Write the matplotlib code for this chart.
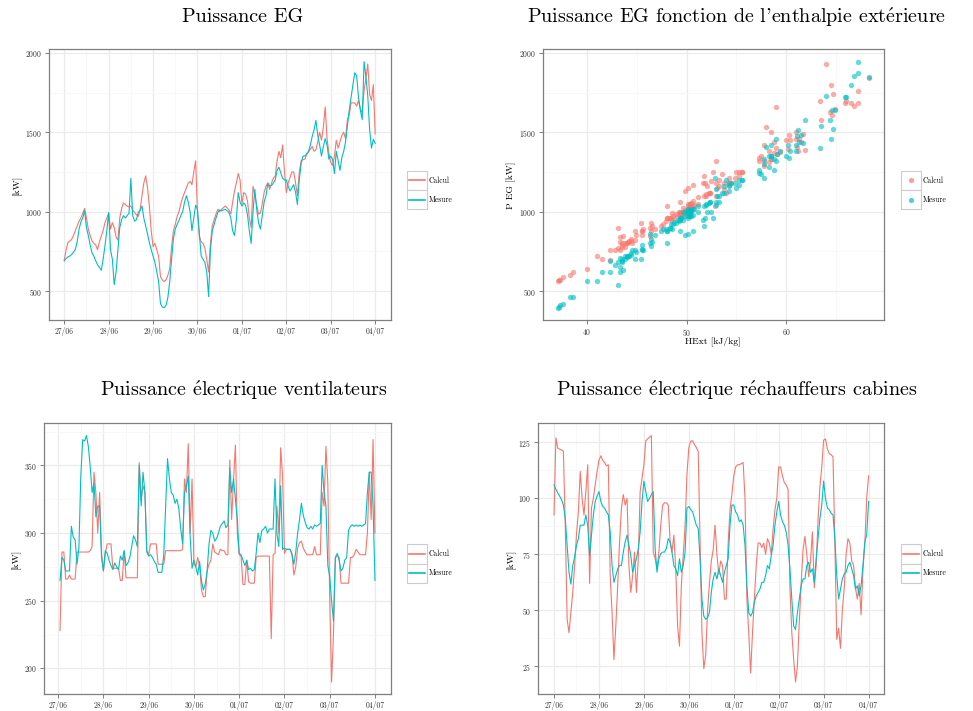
import numpy as np
import pandas as pd
import matplotlib
matplotlib.use('Agg')
import matplotlib.pyplot as plt
import matplotlib.dates as mdates
from matplotlib.ticker import MultipleLocator
from matplotlib.patches import Rectangle

plt.rcParams['font.family'] = ['cmr10', 'DejaVu Serif']
plt.rcParams['mathtext.fontset'] = 'cm'
plt.rcParams['axes.formatter.use_mathtext'] = True

nan = float('nan')
E_ACUTE = r'$\mathrm{\acute{e}}$'

# hourly samples, 27/06 00:00 -> 04/07 00:00
times = pd.date_range('2014-06-27 00:00', periods=169, freq='h').to_numpy()
series_names = ['Calcul', 'Mesure']
colors = ['#F8766D', '#00BFC4']

# Puissance EG [kW]
eg_calcul = [695, 760, 805, 815, 825, 850, 880, 910, 940, 960, 990, 1020,
             960, 890, 850, 815, 800, 790, 760, 810, 845, 880, 930, 960,
             990, 890, 930, 900, 840, 820, 960, 1020, 1055, 1045, 1035, 1030,
             1035, 1010, 995, 980, 970, 1010, 1100, 1180, 1225, 1150, 1035, 880,
             780, 800, 760, 720, 590, 570, 560, 570, 600, 640, 780, 880,
             920, 970, 1000, 1050, 1090, 1120, 1150, 1180, 1190, 1170, 1250, 1320,
             990, 845, 810, 800, 770, 700, 620, 800, 910, 950, 985, 1015,
             1000, 1015, 1025, 1035, 1025, 1010, 985, 1060, 1130, 1180, 1240, 1200,
             1050, 1120, 1110, 1070, 960, 900, 1160, 1100, 1040, 985, 990, 1050,
             1120, 1160, 1180, 1140, 1180, 1210, 1225, 1320, 1380, 1340, 1420, 1250,
             1120, 1180, 1215, 1250, 1250, 1180, 1100, 1250, 1320, 1330, 1330, 1360,
             1375, 1395, 1410, 1380, 1390, 1440, 1500, 1450, 1530, 1660, 1460, 1370,
             1310, 1290, 1350, 1450, 1400, 1440, 1480, 1500, 1460, 1580, 1610, 1685,
             1685, 1685, 1665, 1700, 1645, 1625, 1760, 1840, 1930, 1740, 1700, 1800, 1490]
eg_mesure = [690, 705, 715, 720, 730, 745, 763, 810, 890, 935, 960, 1005,
             900, 850, 790, 740, 720, 690, 665, 650, 630, 700, 785, 880,
             995, 760, 700, 540, 620, 760, 900, 950, 975, 960, 975, 990,
             1210, 975, 940, 950, 995, 1010, 1035, 960, 910, 860, 805, 760,
             720, 680, 620, 560, 420, 400, 395, 410, 460, 560, 700, 830,
             890, 920, 945, 975, 1000, 1060, 1100, 1060, 1000, 880, 960, 1040,
             1015, 860, 720, 700, 680, 620, 465, 760, 880, 920, 960, 995,
             1010, 1005, 1010, 1015, 1005, 995, 960, 880, 850, 950, 1120, 1060,
             1035, 1055, 1040, 980, 880, 800, 1000, 1140, 1015, 930, 890, 975,
             1060, 1100, 1180, 1160, 1165, 1180, 1200, 1260, 1280, 1245, 1210, 1200,
             1200, 1160, 1130, 1150, 1170, 1120, 1045, 1200, 1300, 1350, 1350, 1365,
             1380, 1420, 1475, 1515, 1575, 1480, 1420, 1350, 1410, 1460, 1420, 1330,
             1350, 1330, 1240, 1380, 1320, 1260, 1340, 1380, 1440, 1540, 1640, 1720,
             1800, 1875, 1855, 1720, 1640, 1580, 1945, 1850, 1730, 1520, 1400, 1455, 1430]

# enthalpie exterieure [kJ/kg]
hext = [42.3, 43.3, 44.0, 44.2, 44.4, 44.9, 45.5, 46.5, 47.9, 48.7, 49.4, 50.3,
        48.3, 46.8, 45.5, 44.4, 44.0, 43.5, 42.8, 43.3, 43.6, 44.8, 46.4, 48.0,
        49.8, 45.6, 45.4, 43.1, 43.3, 44.8, 48.3, 49.6, 50.4, 50.1, 50.1, 50.3,
        52.9, 49.8, 49.2, 49.1, 49.6, 50.3, 51.7, 51.8, 51.7, 50.1, 48.0, 45.5,
        43.8, 43.5, 42.3, 41.0, 37.6, 37.2, 37.1, 37.3, 38.3, 40.0, 43.5, 46.4,
        47.6, 48.6, 49.3, 50.3, 51.1, 52.3, 53.1, 53.0, 52.4, 50.6, 52.6, 53.0,
        50.1, 46.3, 44.1, 43.8, 43.1, 41.5, 38.6, 44.5, 47.4, 48.4, 49.3, 50.1,
        50.1, 50.3, 50.4, 50.6, 50.4, 50.1, 49.3, 49.3, 49.8, 51.6, 53.6, 53.3,
        51.1, 52.2, 51.9, 50.6, 48.0, 46.3, 52.0, 53.0, 50.7, 48.9, 48.5, 50.3,
        52.3, 53.3, 54.5, 53.8, 54.3, 54.9, 55.3, 57.3, 58.3, 57.3, 57.8, 55.6,
        54.0, 54.3, 54.3, 55.0, 55.3, 53.8, 51.9, 55.6, 57.8, 58.5, 58.5, 59.1,
        59.4, 60.2, 61.1, 61.2, 61.9, 61.5, 58.5, 60.0, 58.0, 59.0, 61.0, 58.8,
        58.3, 57.8, 57.5, 60.4, 59.0, 58.8, 60.3, 61.0, 61.3, 63.5, 64.6, 65.9,
        66.5, 67.2, 66.8, 66.0, 64.9, 64.4, 67.2, 68.3, 64.0, 64.7, 63.4, 64.5, 61.7]

# Puissance electrique ventilateurs [kW]
vent_calcul = [nan, 228, 286, 286, 266, 266, 269, 266, 266, 266, 286, 286,
               286, 286, 286, 286, 286, 287, 290, 345, 330, 300, 330, 285,
               272, 285, 292, 292, 292, 274, 274, 274, 274, 265, 265, 287,
               267, 267, 267, 267, 267, 267, 267, 352, 325, 335, 330, 287,
               284, 292, 292, 292, 292, 277, 277, 277, 277, 287, 287, 287,
               287, 287, 287, 287, 287, 287, 288, 340, 330, 366, 300, 340,
               277, 275, 282, 276, 258, 253, 253, 272, 277, 280, 292, 286,
               285, 284, 288, 287, 287, 284, 284, 354, 310, 339, 365, 300,
               284, 283, 262, 262, 280, 264, 263, 263, 263, 282, 283, 283,
               283, 283, 283, 283, 283, 222, 284, 285, 320, 300, 363, 343,
               285, 288, 288, 288, 285, 269, 275, 289, 293, 294, 289, 286,
               284, 284, 284, 284, 290, 284, 284, 284, 330, 320, 364, 337,
               252, 190, 225, 282, 283, 282, 263, 263, 263, 263, 263, 282,
               282, 284, 288, 286, 284, 284, 284, 284, 300, 345, 310, 369, 300]
vent_mesure = [nan, 265, 282, 280, 272, 272, 272, 305, 297, 295, 277, 289,
               342, 369, 368, 372, 364, 349, 330, 337, 312, 320, 320, 282,
               272, 287, 285, 280, 276, 273, 278, 275, 273, 283, 280, 287,
               276, 278, 282, 290, 298, 295, 290, 350, 320, 345, 330, 286,
               283, 284, 282, 279, 277, 271, 271, 271, 284, 320, 355, 340,
               330, 328, 322, 325, 318, 303, 292, 330, 335, 342, 297, 274,
               280, 275, 269, 279, 265, 258, 262, 272, 292, 302, 300, 294,
               296, 300, 305, 307, 309, 304, 306, 348, 330, 340, 325, 310,
               285, 284, 280, 276, 280, 273, 274, 272, 273, 285, 300, 293,
               302, 303, 305, 300, 303, 303, 303, 340, 300, 290, 335, 288,
               289, 288, 288, 288, 284, 277, 286, 300, 310, 322, 313, 308,
               304, 303, 305, 303, 306, 305, 306, 307, 350, 330, 320, 276,
               268, 250, 235, 282, 285, 280, 272, 274, 280, 282, 302, 305,
               306, 305, 306, 305, 306, 305, 306, 307, 330, 345, 345, 320, 265]

# Puissance electrique rechauffeurs cabines [kW]
rech_calcul = [92.6, 127, 122.4, 122, 121.5, 121, 88, 46, 40, 49, 58, 70,
               84, 94, 112, 100, 92.6, 103, 115, 62, 95.6, 100, 106, 112,
               117, 119, 117, 116, 114.5, 115, 65.5, 49, 28, 43, 61, 80.6,
               95.6, 101.7, 97, 100, 70, 58, 65.5, 76, 58, 73, 103, 109,
               115, 125.7, 126.5, 127.3, 128, 76, 73, 68.5, 76, 88, 97, 98,
               98, 97, 80.6, 76, 83.6, 68.5, 43, 34, 61, 74.5, 88, 110.7,
               122.7, 125.5, 125.7, 124, 122.7, 121, 80.6, 40, 24, 30, 50, 62,
               72, 77, 88, 75, 66, 72, 70, 55, 55, 80, 95, 102,
               110, 114, 115, 115, 115.5, 116, 100, 55, 40, 22, 40, 55,
               70, 80, 80, 78, 80, 75, 82, 80, 75, 86, 95, 100,
               114, 114, 110, 107, 106, 104, 60, 40, 28, 18, 25, 45,
               62, 77, 83, 75, 65, 72, 85, 60, 70, 90, 105, 114,
               126, 126.5, 122, 120, 119.5, 118.5, 80, 37, 42, 33, 50, 60,
               75, 82, 80, 72, 70, 60, 55, 62, 48, 68, 80, 100, 110]
rech_mesure = [106, 104, 102.4, 101, 99.4, 97, 91, 79, 67, 61.7, 70, 73.8,
               79, 82, 88, 88, 88, 92.6, 88, 74.5, 83.6, 92.6, 98.6, 101,
               103, 98.6, 96.4, 95.6, 94, 92.6, 85, 70, 62.5, 65.5, 68.5, 70,
               70, 76, 80.6, 83.6, 79, 74.5, 67, 70, 73, 77.6, 85, 98.6,
               107.7, 103, 98.6, 100, 101.6, 103, 77.6, 67, 73, 75.3, 76, 76,
               77.6, 82, 80.6, 76, 70, 68.5, 65.5, 73, 67, 70, 76, 95.6,
               96.4, 95, 94, 91, 88, 86.6, 73, 55, 47.4, 46, 46.7, 49,
               58, 64, 67, 64, 68.5, 65.5, 62.5, 67, 70, 73, 88, 97,
               97, 94, 92.6, 89.6, 90.4, 88, 79, 61, 49, 47.4, 49, 53.5,
               56.5, 58, 59.5, 62.5, 62.5, 65.5, 70, 68.5, 74.5, 79, 88, 94,
               98.6, 92.6, 89.6, 88, 85, 79, 68.5, 55, 43, 41.4, 49, 55,
               61, 64, 64, 70, 71.5, 67, 68.5, 62.5, 73, 82, 91, 97,
               107.7, 100, 95.6, 95, 93.4, 92.6, 82, 65.5, 55, 59.5, 64, 66.3,
               67, 70, 71.5, 68.5, 65.5, 59.5, 61, 56.5, 61, 70, 80.6, 83.6, 98.6]

W, H = 973, 711
fig = plt.figure(figsize=(W / 100, H / 100), dpi=100)


def px_axes(left, top, right, bottom):
    return fig.add_axes([left / W, 1 - bottom / H, (right - left) / W, (bottom - top) / H])


def style(ax, major, minor):
    ax.set_facecolor('white')
    for s in ax.spines.values():
        s.set_color('#7F7F7F')
        s.set_linewidth(0.9)
    ax.yaxis.set_major_locator(MultipleLocator(major))
    ax.yaxis.set_minor_locator(MultipleLocator(minor))
    ax.grid(which='major', color='#EBEBEB', lw=0.9)
    ax.grid(which='minor', color='#F7F7F7', lw=0.6)
    ax.set_axisbelow(True)
    ax.tick_params(which='major', length=3, width=0.7, color='#7F7F7F',
                   labelsize=5.5, labelcolor='#333333', pad=2)
    ax.tick_params(which='minor', length=0)


def time_axis(ax):
    ax.xaxis.set_major_locator(mdates.DayLocator())
    ax.xaxis.set_minor_locator(mdates.HourLocator(byhour=[12]))
    ax.xaxis.set_major_formatter(mdates.DateFormatter('%d/%m'))


def title(x, y, text):
    fig.text(x / W, 1 - y / H, text, fontsize=14.5, ha='center', va='center')


def legend(x0, y0, kind):
    kw, kh = 20, 19.3
    lax = fig.add_axes([x0 / W, 1 - (y0 + 2 * kh) / H, kw / W, 2 * kh / H])
    lax.set_xlim(0, 1)
    lax.set_ylim(0, 2)
    lax.axis('off')
    for i, (name, col) in enumerate(zip(series_names, colors)):
        yb = 1 - i
        lax.add_patch(Rectangle((0, yb), 1, 1, fc='white', ec='#CCCCCC', lw=0.8, clip_on=False))
        if kind == 'line':
            lax.plot([0.1, 0.9], [yb + 0.5] * 2, color=col, lw=1.2, clip_on=False)
        else:
            lax.scatter([0.5], [yb + 0.5], s=14, color=col, alpha=0.7, lw=0, clip_on=False)
        fig.text((x0 + kw + 2) / W, 1 - (y0 + kh * (i + 0.5)) / H, name,
                 fontsize=5.5, va='center', ha='left')


# top left : Puissance EG
ax1 = px_axes(48.7, 49.3, 390.7, 320)
style(ax1, 500, 250)
time_axis(ax1)
ax1.plot(times, eg_calcul, color=colors[0], lw=0.8)
ax1.plot(times, eg_mesure, color=colors[1], lw=0.8)
title(243, 17, 'Puissance EG')
fig.text(17 / W, 1 - 185 / H, '[kW]', fontsize=7, rotation=90, ha='center', va='center')
legend(406.7, 170.7, 'line')

# top right : scatter
ax2 = px_axes(542.7, 49.3, 884.3, 320)
style(ax2, 500, 250)
ax2.xaxis.set_major_locator(MultipleLocator(10))
ax2.xaxis.set_minor_locator(MultipleLocator(5))
ax2.scatter(hext, eg_calcul, s=15, color=colors[0], alpha=0.6, lw=0)
ax2.scatter(hext, eg_mesure, s=15, color=colors[1], alpha=0.6, lw=0)
title(737, 17, "Puissance EG fonction de l'enthalpie ext" + E_ACUTE + "rieure")
fig.text(511 / W, 1 - 185 / H, 'P EG [kW]', fontsize=7, rotation=90, ha='center', va='center')
fig.text(713 / W, 1 - 341 / H, 'HExt [kJ/kg]', fontsize=7, ha='center', va='center')
legend(900.7, 170.7, 'point')

# bottom left : ventilateurs
ax3 = px_axes(44.3, 423.3, 390.7, 694.3)
style(ax3, 50, 25)
time_axis(ax3)
ax3.plot(times, vent_calcul, color=colors[0], lw=0.8)
ax3.plot(times, vent_mesure, color=colors[1], lw=0.8)
title(244, 390, 'Puissance ' + E_ACUTE + 'lectrique ventilateurs')
fig.text(16 / W, 1 - 559 / H, '[kW]', fontsize=7, rotation=90, ha='center', va='center')
legend(406.7, 544.3, 'line')

# bottom right : rechauffeurs
ax4 = px_axes(538.3, 423.3, 884.3, 694.3)
style(ax4, 25, 12.5)
time_axis(ax4)
ax4.plot(times, rech_calcul, color=colors[0], lw=0.8)
ax4.plot(times, rech_mesure, color=colors[1], lw=0.8)
title(737, 390, 'Puissance ' + E_ACUTE + 'lectrique r' + E_ACUTE + 'chauffeurs cabines')
fig.text(511 / W, 1 - 559 / H, '[kW]', fontsize=7, rotation=90, ha='center', va='center')
legend(900.7, 544.3, 'line')

fig.savefig('out.png', dpi=100, facecolor='white')
